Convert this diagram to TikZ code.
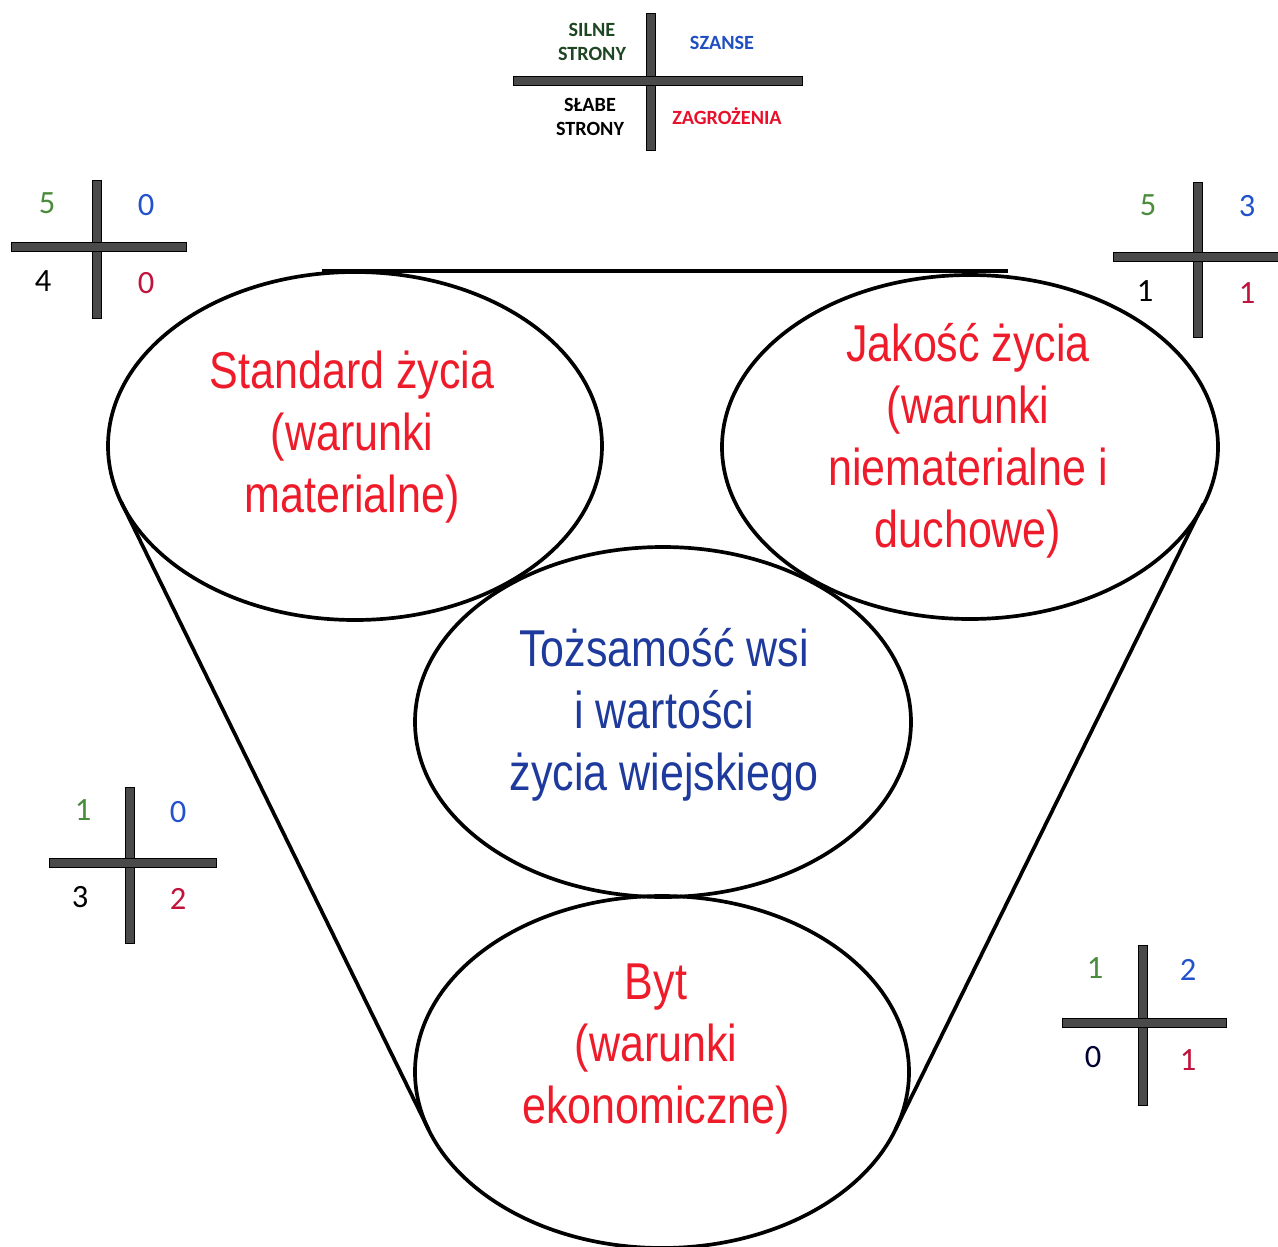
\documentclass[tikz,border=0pt]{standalone}
\usepackage{fontspec}
\setmainfont{Liberation Sans}
\newfontfamily\narrowsans[FakeStretch=0.83]{Liberation Sans}
\newfontfamily\calib{Carlito}
\definecolor{redtxt}{HTML}{EE1C2A}
\definecolor{bluetxt}{HTML}{1E3A9C}
\definecolor{numgreen}{HTML}{4A8C3C}
\definecolor{numblue}{HTML}{2253CC}
\definecolor{numred}{HTML}{C0143C}
\definecolor{legdark}{HTML}{1E4622}
\definecolor{legblue}{HTML}{1F4FC0}
\definecolor{legred}{HTML}{E8102A}
\definecolor{bargrey}{HTML}{4A4A4A}
\begin{document}
\begin{tikzpicture}[x=0.02cm,y=-0.02cm,
  outline/.style={line width=2.1pt,black},
  bigtxt/.style={font=\narrowsans\fontsize{29.5}{35.2}\selectfont,align=center,inner sep=0pt},
  num/.style={font=\calib\fontsize{18.5}{20}\selectfont,inner sep=0pt},
  leg/.style={font=\calib\bfseries\fontsize{11.5}{13.6}\selectfont,align=center,inner sep=0pt}]
\useasboundingbox (0,0) rectangle (1278,1247);
\begin{scope}
\clip (0,0) rectangle (1278,1247);
% cross bars
\newcommand\crossbars[6]{%
  \fill[bargrey,draw=black,line width=0.4pt] (#1-4.5,#3) rectangle (#1+4.5,#4);
  \fill[bargrey,draw=black,line width=0.4pt] (#5,#2-4.5) rectangle (#6,#2+4.5);
  \fill[bargrey] (#1-4.2,#2-4.2) rectangle (#1+4.2,#2+4.2);}
% legend cross
\crossbars{651}{81}{13}{150}{513}{802}
\node[leg,text=legdark] (lsil) at (592,42) {SILNE\\STRONY};
\node[leg,text=legblue] (lsza) at (722,43) {SZANSE};
\node[leg,text=black] (lsla) at (590,117) {SŁABE\\STRONY};
\node[leg,text=legred] (lzag) at (727,116) {ZAGROŻENIA};
% cross 1
\crossbars{97}{247}{180}{318}{11}{186}
\node[num,text=numgreen] (a1) at (47,203) {5};
\node[num,text=numblue] (a2) at (146,205) {0};
\node[num,text=black] (a3) at (43,281) {4};
\node[num,text=numred] (a4) at (146,283) {0};
% cross 2
\crossbars{1198}{257}{182}{337}{1113}{1285}
\node[num,text=numgreen] (b1) at (1148,205) {5};
\node[num,text=numblue] (b2) at (1247,206) {3};
\node[num,text=black] (b3) at (1145,291) {1};
\node[num,text=numred] (b4) at (1247,293) {1};
% cross 3
\crossbars{130}{863}{787}{943}{49}{216}
\node[num,text=numgreen] (c1) at (83,810) {1};
\node[num,text=numblue] (c2) at (178,812) {0};
\node[num,text=black] (c3) at (80,897) {3};
\node[num,text=numred] (c4) at (178,899) {2};
% cross 4
\crossbars{1143}{1023}{945}{1105}{1062}{1226}
\node[num,text=numgreen] (d1) at (1095,968) {1};
\node[num,text=numblue] (d2) at (1188,970) {2};
\node[num,text=black!80!blue] (d3) at (1093,1057) {0};
\node[num,text=numred] (d4) at (1188,1060) {1};
% ellipses
\coordinate (e1) at (355,446);
\coordinate (e2) at (970,447);
\coordinate (e3) at (663,722);
\coordinate (e4) at (662,1072);
\draw[outline] (e1) ellipse [x radius=247, y radius=174];
\draw[outline] (e2) ellipse [x radius=248, y radius=172];
\draw[outline] (e3) ellipse [x radius=248, y radius=175];
\draw[outline] (e4) ellipse [x radius=247, y radius=176];
% tangent lines
\coordinate (t1) at (322,271);
\coordinate (t2) at (1008,271);
\coordinate (l1) at (121.6,502.8);
\coordinate (l2) at (428.6,1129.5);
\coordinate (r1) at (1203.4,503.8);
\coordinate (r2) at (895.4,1129.5);
\draw[outline] (t1) -- (t2);
\draw[outline] (l1) -- (l2);
\draw[outline] (r1) -- (r2);
% texts
\node[bigtxt,text=redtxt] (s) at (352,437) {Standard życia\\(warunki\\materialne)};
\node[bigtxt,text=redtxt] (j) at (968,441) {Jakość życia\\(warunki\\niematerialne i\\duchowe)};
\node[bigtxt,text=bluetxt] (t) at (664,715) {Tożsamość wsi\\i wartości\\życia wiejskiego};
\node[bigtxt,text=redtxt] (b) at (656,1049) {Byt\\(warunki\\ekonomiczne)};
\end{scope}
\end{tikzpicture}
\end{document}
